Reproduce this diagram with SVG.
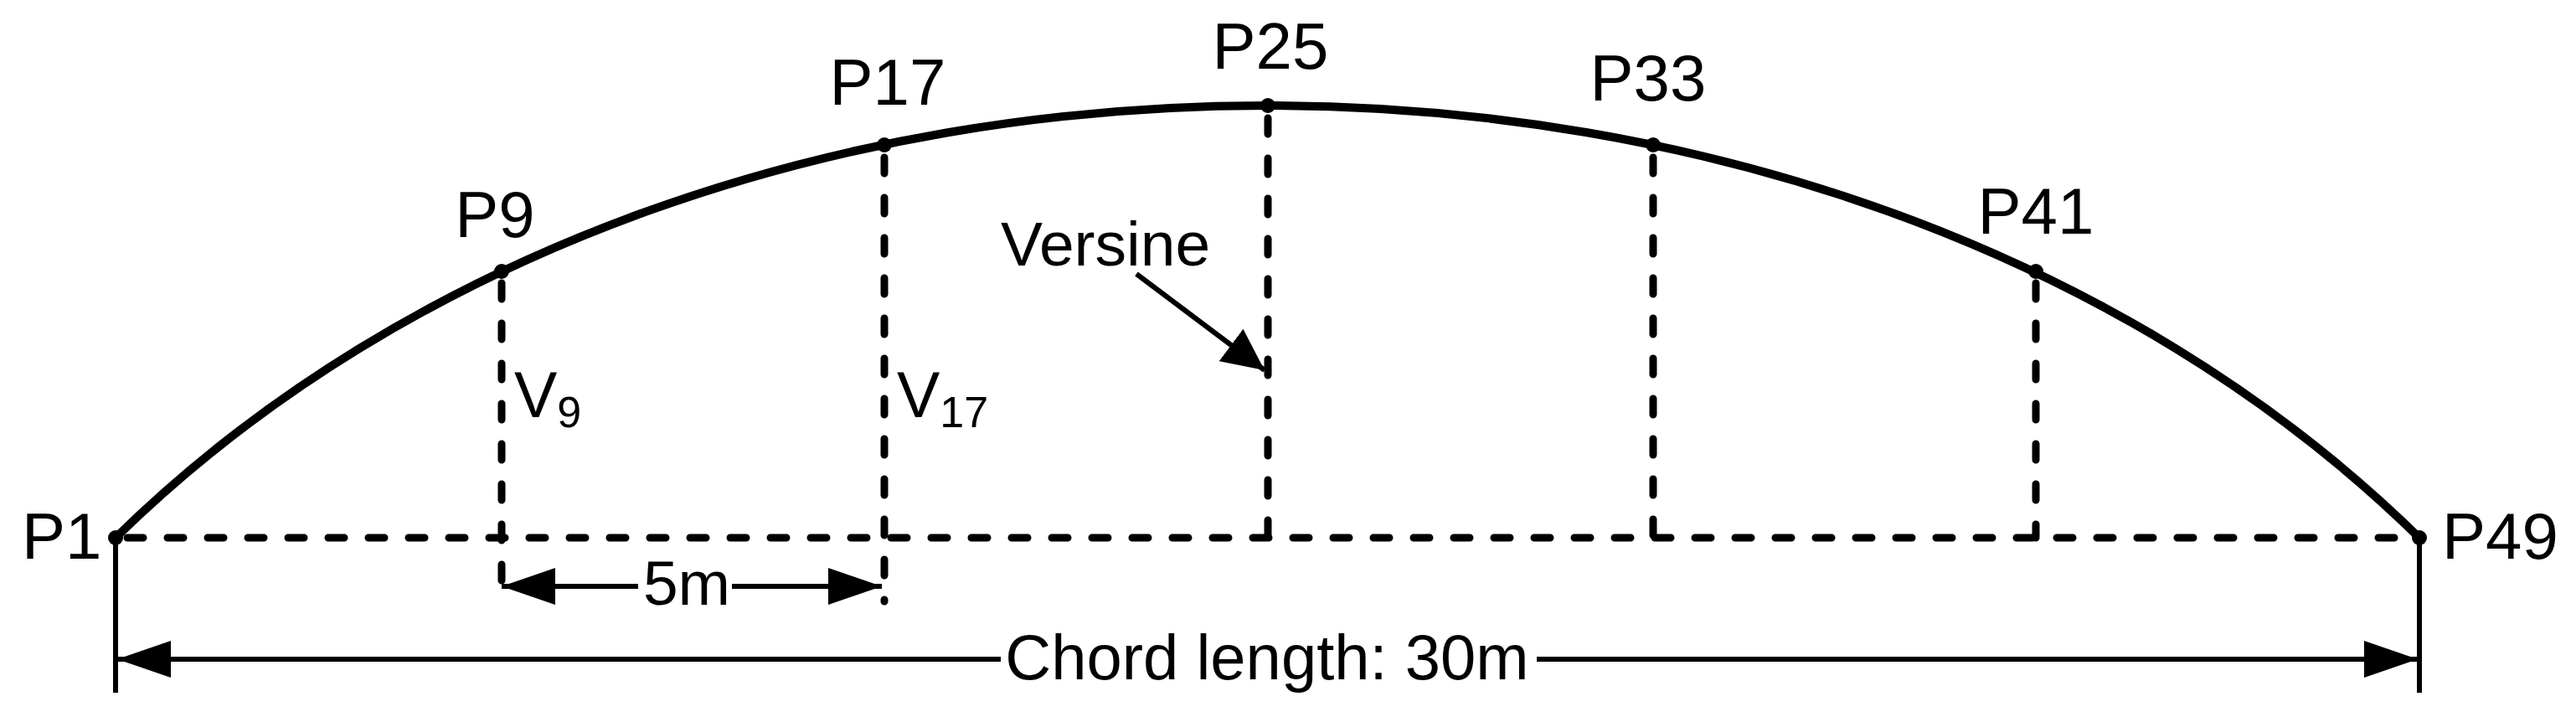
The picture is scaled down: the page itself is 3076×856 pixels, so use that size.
<svg xmlns="http://www.w3.org/2000/svg" width="3076" height="856" viewBox="0 0 3076 856">
<style>
text{font-family:"Liberation Sans",Arial,sans-serif;fill:#000}
.lbl{font-size:78px}
.arc{fill:none;stroke:#000;stroke-width:10}
.dash{fill:none;stroke:#000;stroke-width:9;stroke-dasharray:19 29;stroke-linecap:round}
.dim{fill:none;stroke:#000;stroke-width:6}
.dot{fill:#000}
</style>
<defs>
<marker id="ah" viewBox="-64 -22 64 44" refX="0" refY="0" markerWidth="64" markerHeight="44" markerUnits="userSpaceOnUse" orient="auto-start-reverse">
<path d="M0,0 L-64,-22 L-64,22 Z" fill="#000"/>
</marker>
<marker id="ah2" viewBox="-50 -24 50 48" refX="0" refY="0" markerWidth="50" markerHeight="48" markerUnits="userSpaceOnUse" orient="auto">
<path d="M0,0 L-50,-24 L-50,24 Z" fill="#000"/>
</marker>
</defs>
<rect width="3076" height="856" fill="#fff"/>
<g id="arc">
<path class="arc" d="M138,642 C839,-46 2188,-46 2889,642"/>
</g>
<g id="connectors">
<line class="dash" x1="152" y1="642" x2="2878" y2="642"/>
<line class="dash" x1="599" y1="338" x2="599" y2="718"/>
<line class="dash" x1="1056" y1="188" x2="1056" y2="718"/>
<line class="dash" x1="1514" y1="141" x2="1514" y2="642"/>
<line class="dash" x1="1974" y1="188" x2="1974" y2="642"/>
<line class="dash" x1="2431" y1="338" x2="2431" y2="642"/>
<line class="dim" x1="138" y1="642" x2="138" y2="827"/>
<line class="dim" x1="2889" y1="642" x2="2889" y2="827"/>
<line class="dim" x1="140" y1="787" x2="1195" y2="787" marker-start="url(#ah)"/>
<line class="dim" x1="1835" y1="787" x2="2887" y2="787" marker-end="url(#ah)"/>
<line class="dim" x1="599" y1="700" x2="762" y2="700" marker-start="url(#ah)"/>
<line class="dim" x1="874" y1="700" x2="1053" y2="700" marker-end="url(#ah)"/>
<line class="dim" x1="1357" y1="327" x2="1510" y2="442" marker-end="url(#ah2)"/>
</g>
<g id="p1"><circle class="dot" cx="138" cy="642" r="9"/><text class="lbl" x="26" y="667">P1</text></g>
<g id="p9"><circle class="dot" cx="599" cy="324" r="9"/><text class="lbl" x="591" y="283" text-anchor="middle">P9</text></g>
<g id="p17"><circle class="dot" cx="1056" cy="173" r="9"/><text class="lbl" x="1060" y="125" text-anchor="middle">P17</text></g>
<g id="p25"><circle class="dot" cx="1514" cy="126" r="9"/><text class="lbl" x="1517" y="82" text-anchor="middle">P25</text></g>
<g id="p33"><circle class="dot" cx="1974" cy="173" r="9"/><text class="lbl" x="1968" y="120" text-anchor="middle">P33</text></g>
<g id="p41"><circle class="dot" cx="2431" cy="324" r="9"/><text class="lbl" x="2431" y="279" text-anchor="middle">P41</text></g>
<g id="p49"><circle class="dot" cx="2889" cy="642" r="9"/><text class="lbl" x="2916" y="667">P49</text></g>
<g id="v9"><text x="614" y="498" font-size="77">V<tspan font-size="52" y="510">9</tspan></text></g>
<g id="v17"><text x="1071" y="498" font-size="77">V<tspan font-size="52" y="510">17</tspan></text></g>
<g id="versine"><text x="1195" y="317" font-size="75">Versine</text></g>
<g id="dim5m"><text x="820" y="722" font-size="75" text-anchor="middle">5m</text></g>
<g id="chord"><text x="1513" y="811" font-size="76" text-anchor="middle">Chord length: 30m</text></g>
</svg>
